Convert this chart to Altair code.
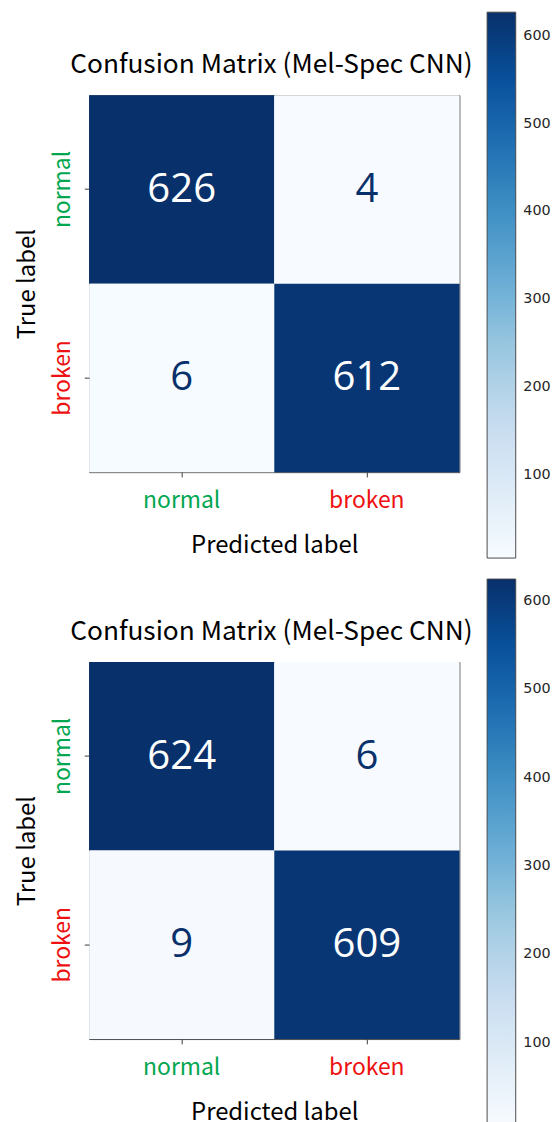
import altair as alt
import pandas as pd

LABELS = ["normal", "broken"]
TITLE = "Confusion Matrix (Mel-Spec CNN)"
X_TITLE = "Predicted label"
Y_TITLE = "True label"
CM_TOP = [[626, 4], [6, 612]]
CM_BOTTOM = [[624, 6], [9, 609]]
CBAR_TICKS = [100, 200, 300, 400, 500, 600]
BLUES = ["#f7fbff", "#deebf7", "#c6dbef", "#9ecae1", "#6baed6",
         "#4292c6", "#2171b5", "#08519c", "#08306b"]

FONT = "Noto Sans CJK JP"
NUM_FONT = "Open Sans"
GREEN = "#00a650"
RED = "#ee1111"
NAVY = "#08306b"

label_color = {"condition": {"test": "datum.value === 'normal'", "value": GREEN}, "value": RED}


def frame(cm):
    rows = []
    for i, t in enumerate(LABELS):
        for j, p in enumerate(LABELS):
            rows.append({"true": t, "pred": p, "value": cm[i][j]})
    return pd.DataFrame(rows)


def panel(cm):
    df = frame(cm)
    vals = [v for r in cm for v in r]
    lo, hi = min(vals), max(vals)
    x = alt.X(
        "pred:N", sort=LABELS, title=X_TITLE,
        scale=alt.Scale(paddingInner=0, paddingOuter=0),
        axis=alt.Axis(
            labelAngle=0, labelFont=FONT, labelFontSize=24, labelColor=label_color,
            labelPadding=13, tickSize=5, tickColor="#333", tickWidth=1, domain=False,
            grid=False, titleFont=FONT, titleFontSize=25, titleFontWeight="normal",
            titleColor="black", titlePadding=22,
        ),
    )
    y = alt.Y(
        "true:N", sort=LABELS, title=Y_TITLE,
        scale=alt.Scale(paddingInner=0, paddingOuter=0),
        axis=alt.Axis(
            labelAngle=270, labelAlign="center", labelBaseline="bottom",
            labelFont=FONT, labelFontSize=24, labelColor=label_color,
            labelPadding=11, tickSize=5, tickColor="#333", tickWidth=1, domain=False,
            grid=False, titleFont=FONT, titleFontSize=25, titleFontWeight="normal",
            titleColor="black", titlePadding=12,
        ),
    )
    base = alt.Chart(df)
    rect = base.mark_rect().encode(
        x=x, y=y,
        color=alt.Color(
            "value:Q", title=None,
            scale=alt.Scale(domain=[lo, hi], range=BLUES, interpolate="rgb"),
            legend=alt.Legend(
                orient="none", legendX=417, legendY=-87, direction="vertical",
                gradientLength=572, gradientThickness=30, values=CBAR_TICKS,
                labelFont="DejaVu Sans", labelFontSize=15, labelColor="#262626",
                labelOffset=8, gradientStrokeColor="#444", gradientStrokeWidth=1,
                padding=0,
            ),
        ),
    )
    text = base.mark_text(font=NUM_FONT, fontSize=42, baseline="middle", align="center").encode(
        x=alt.X("pred:N", sort=LABELS),
        y=alt.Y("true:N", sort=LABELS),
        text="value:Q",
        color=alt.condition(alt.datum.value > hi / 2, alt.value("white"), alt.value(NAVY)),
    )
    return alt.layer(rect, text).properties(
        width=388, height=395,
        title=alt.Title(TITLE, font=FONT, fontSize=27.5, fontWeight="normal",
                        color="black", offset=-69, dx=-3, anchor="middle", frame="group"),
    )


chart = alt.vconcat(panel(CM_TOP), panel(CM_BOTTOM), spacing=19).resolve_scale(
    color="independent"
).properties(
    padding={"left": 7, "top": -24, "right": 0, "bottom": 0}
).configure_view(stroke="#444", strokeWidth=1)

chart.save("out.html", embed_options={"renderer": "svg", "actions": False})
